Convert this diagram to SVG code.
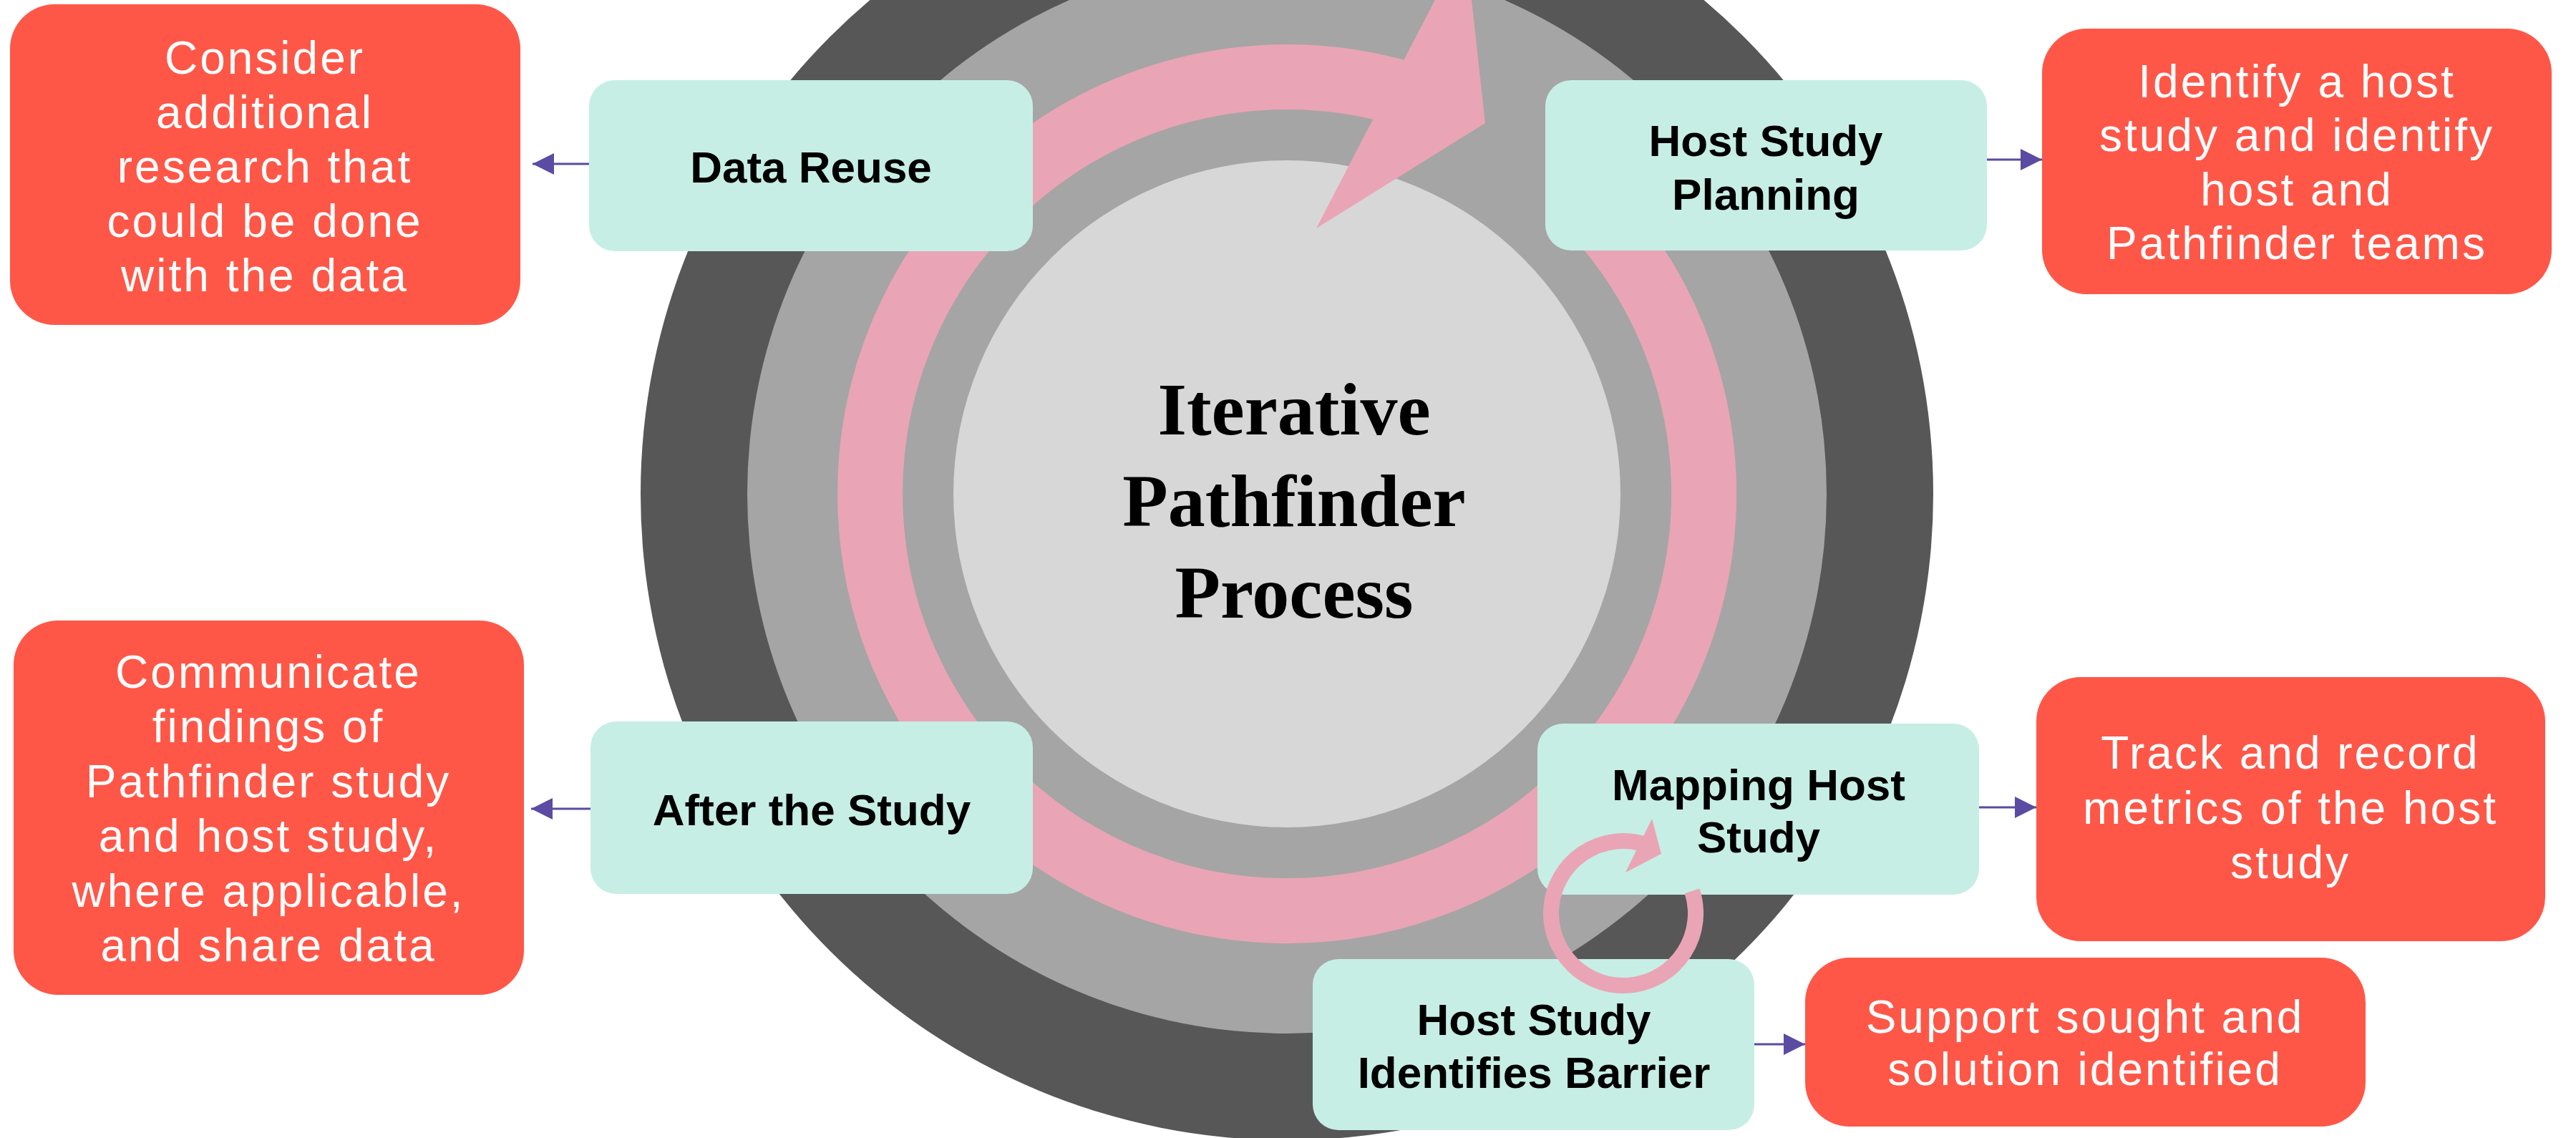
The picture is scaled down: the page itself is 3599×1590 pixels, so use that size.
<svg xmlns="http://www.w3.org/2000/svg" width="3599" height="1590" viewBox="0 0 3599 1590">
  <style>
    .step rect { fill: #c6eee5; }
    .step text { font-family: "Liberation Sans", Arial, sans-serif; font-weight: bold; font-size: 62px; fill: #000; text-anchor: middle; }
    .note rect { fill: #fe5748; }
    .note text { font-family: "Liberation Sans", Arial, sans-serif; font-size: 64px; fill: #fff; text-anchor: middle; letter-spacing: 3px; }
    .conn { stroke: #5b4ba3; stroke-width: 3; fill: none; marker-end: url(#arrow); }
    .title { font-family: "Liberation Serif", "Times New Roman", serif; font-weight: bold; font-size: 104px; fill: #000; text-anchor: middle; }
  </style>
  <defs>
    <marker id="arrow" markerUnits="userSpaceOnUse" markerWidth="30" markerHeight="30" refX="30" refY="15" orient="auto">
      <path d="M0,0 L30,15 L0,30 Z" fill="#5b4ba3"/>
    </marker>
  </defs>
  <rect width="3599" height="1590" fill="#fff"/>

  <g id="cycle">
    <circle cx="1798" cy="690" r="903" fill="#575757"/>
    <circle cx="1798" cy="690" r="754" fill="#a5a5a5"/>
    <circle cx="1798" cy="690" r="466" fill="#d7d7d7"/>
    <path d="M2230.9,300.2 A582.5,582.5 0 1 1 1968.3,133.0" fill="none" stroke="#e9a5b5" stroke-width="91"/>
    <polygon points="1839,319 2075,172 2047,-81" fill="#e9a5b5"/>
    <text class="title" x="1808" y="607">Iterative</text>
    <text class="title" x="1808" y="735">Pathfinder</text>
    <text class="title" x="1808" y="863">Process</text>
  </g>

  <g id="connectors">
    <line class="conn" x1="823" y1="229" x2="744" y2="229"/>
    <line class="conn" x1="825" y1="1130" x2="742" y2="1130"/>
    <line class="conn" x1="2776" y1="223" x2="2853" y2="223"/>
    <line class="conn" x1="2765" y1="1128" x2="2845" y2="1128"/>
    <line class="conn" x1="2451" y1="1459" x2="2522" y2="1459"/>
  </g>

  <g id="data-reuse" class="step">
    <rect x="823" y="112" width="620" height="239" rx="36"/>
    <text x="1133" y="255">Data Reuse</text>
  </g>
  <g id="host-study-planning" class="step">
    <rect x="2159" y="112" width="617" height="238" rx="36"/>
    <text x="2467" y="218">Host Study</text>
    <text x="2467" y="293">Planning</text>
  </g>
  <g id="after-the-study" class="step">
    <rect x="825" y="1008" width="618" height="241" rx="36"/>
    <text x="1134" y="1153">After the Study</text>
  </g>
  <g id="mapping-host-study" class="step">
    <rect x="2148" y="1011" width="617" height="239" rx="36"/>
    <text x="2457" y="1118">Mapping Host</text>
    <text x="2457" y="1191">Study</text>
  </g>
  <g id="host-study-identifies-barrier" class="step">
    <rect x="1834" y="1340" width="617" height="239" rx="36"/>
    <text x="2143" y="1446">Host Study</text>
    <text x="2143" y="1520">Identifies Barrier</text>
  </g>

  <g id="note-data-reuse" class="note">
    <rect x="14" y="6" width="713" height="448" rx="62"/>
    <text x="370" y="103">Consider</text>
    <text x="370" y="179">additional</text>
    <text x="370" y="255">research that</text>
    <text x="370" y="331">could be done</text>
    <text x="370" y="407">with the data</text>
  </g>
  <g id="note-host-study-planning" class="note">
    <rect x="2853" y="40" width="712" height="371" rx="62"/>
    <text x="3209" y="136">Identify a host</text>
    <text x="3209" y="211">study and identify</text>
    <text x="3209" y="287">host and</text>
    <text x="3209" y="362">Pathfinder teams</text>
  </g>
  <g id="note-after-the-study" class="note">
    <rect x="19" y="867" width="713" height="523" rx="62"/>
    <text x="375" y="961">Communicate</text>
    <text x="375" y="1037">findings of</text>
    <text x="375" y="1114">Pathfinder study</text>
    <text x="375" y="1190">and host study,</text>
    <text x="375" y="1267">where applicable,</text>
    <text x="375" y="1343">and share data</text>
  </g>
  <g id="note-mapping-host-study" class="note">
    <rect x="2845" y="946" width="711" height="369" rx="62"/>
    <text x="3200" y="1074">Track and record</text>
    <text x="3200" y="1151">metrics of the host</text>
    <text x="3200" y="1227">study</text>
  </g>
  <g id="note-barrier" class="note">
    <rect x="2522" y="1338" width="783" height="236" rx="62"/>
    <text x="2913" y="1443">Support sought and</text>
    <text x="2913" y="1516">solution identified</text>
  </g>

  <g id="barrier-loop">
    <path d="M2364.1,1244.8 A101,101 0 1 1 2297.5,1179.4" fill="none" stroke="#e9a5b5" stroke-width="22"/>
    <polygon points="2271,1219 2321,1193 2308,1144" fill="#e9a5b5"/>
  </g>
</svg>
